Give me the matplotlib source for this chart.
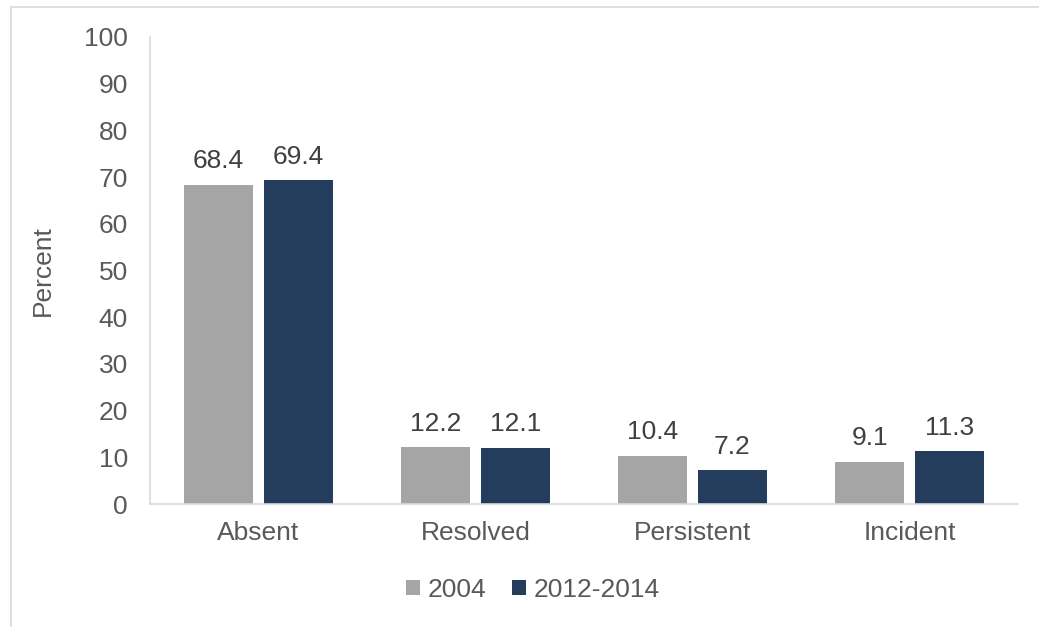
import numpy as np
import matplotlib.pyplot as plt
from matplotlib.patches import Rectangle

categories = ['Absent', 'Resolved', 'Persistent', 'Incident']
vals_2004 = [68.4, 12.2, 10.4, 9.1]
vals_2012 = [69.4, 12.1, 7.2, 11.3]
series_names = ['2004', '2012-2014']

plt.rcParams['font.family'] = ['Liberation Sans', 'DejaVu Sans']
txt = '#595959'
fs = 19

fig = plt.figure(figsize=(10.39, 6.27), dpi=100)
ax = fig.add_axes([0.1444, 0.196, 0.8354, 0.745])

# outer chart border
fig.patches.append(Rectangle((11 / 1039, -0.01), 1.02, 1 - 7 / 627 + 0.01,
                             transform=fig.transFigure, fill=False,
                             edgecolor='#d9d9d9', lw=1.2))

x = np.arange(len(categories))
w = 0.318
off = 0.184
b1 = ax.bar(x - off, vals_2004, w, color='#a5a5a5', label=series_names[0])
b2 = ax.bar(x + off, vals_2012, w, color='#253d5c', label=series_names[1])

for bars, vals in [(b1, vals_2004), (b2, vals_2012)]:
    for r, v in zip(bars, vals):
        ax.annotate(f'{v:.1f}', (r.get_x() + r.get_width() / 2, v),
                    xytext=(0, 8), textcoords='offset points',
                    ha='center', va='bottom', fontsize=fs, color='#404040')

ax.set_xlim(-0.5, 3.5)
ax.set_ylim(0, 100)
ax.set_yticks(range(0, 101, 10))
ax.set_xticks(x)
ax.set_xticklabels(categories)
ax.tick_params(axis='both', length=0, labelsize=fs, colors=txt)
ax.tick_params(axis='y', pad=16)
ax.tick_params(axis='x', pad=12.5)
for s in ['top', 'right']:
    ax.spines[s].set_visible(False)
for s in ['left', 'bottom']:
    ax.spines[s].set_color('#d9d9d9')
    ax.spines[s].set_linewidth(1.2)

ax.set_ylabel('Percent', fontsize=fs, color=txt, labelpad=21)

leg = fig.legend(handles=[b1, b2], loc='center', bbox_to_anchor=(533 / 1039, 1 - 590 / 627),
                 ncol=2, frameon=False, fontsize=fs, handlelength=0.52, handleheight=0.52,
                 handletextpad=0.28, columnspacing=1.0)
for t in leg.get_texts():
    t.set_color(txt)

fig.savefig('out.png', dpi=100)
